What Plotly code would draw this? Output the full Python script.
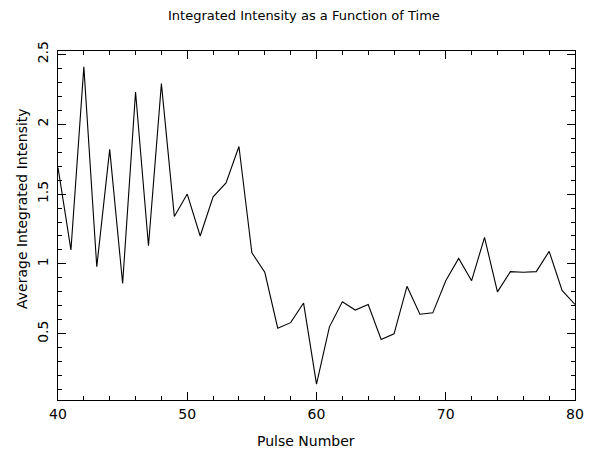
import plotly.graph_objects as go

pulse = list(range(40, 81))
intensity = [1.69, 1.10, 2.41, 0.98, 1.82, 0.86, 2.23, 1.13, 2.29, 1.34,
             1.50, 1.20, 1.48, 1.58, 1.84, 1.08, 0.94, 0.54, 0.58, 0.72,
             0.14, 0.55, 0.73, 0.67, 0.71, 0.46, 0.50, 0.84, 0.64, 0.65,
             0.88, 1.04, 0.88, 1.19, 0.80, 0.945, 0.94, 0.945, 1.09, 0.81,
             0.71]
x_ticks = [40, 50, 60, 70, 80]
y_ticks = [0.5, 1, 1.5, 2, 2.5]
y_tick_text = ["0.5", "1", "1.5", "2", "2.5"]

title = "Integrated Intensity as a Function of Time"
x_title = "Pulse Number"
y_title = "Average Integrated Intensity"

ymin, ymax = min(intensity), max(intensity)
pad = 0.05 * (ymax - ymin)

FONT = "DejaVu Sans"
fig = go.Figure()
fig.add_trace(go.Scatter(x=pulse, y=intensity, mode="lines",
                         line=dict(color="black", width=1.1), showlegend=False))

axis_common = dict(showgrid=False, zeroline=False, showline=True, linecolor="black",
                   linewidth=1, mirror="ticks", ticks="inside", tickcolor="black",
                   tickwidth=1, ticklen=8, automargin=False,
                   tickfont=dict(family=FONT, size=14, color="black"))
fig.update_xaxes(range=[40, 80], tickvals=x_ticks, ticklabelstandoff=1,
                 minor=dict(dtick=2, ticks="inside", ticklen=4, tickcolor="black"),
                 **axis_common)
fig.update_yaxes(range=[ymin - pad, ymax + pad], tickvals=y_ticks, ticktext=y_tick_text,
                 tickangle=-90, ticklabelstandoff=3,
                 minor=dict(dtick=0.1, tick0=0, ticks="inside", ticklen=4, tickcolor="black"),
                 **axis_common)

W = 592
L, R = 58, 17
PW = W - L - R

fig.update_layout(
    width=W, height=449,
    margin=dict(l=L, r=R, t=51, b=49),
    plot_bgcolor="white", paper_bgcolor="white",
    font=dict(family=FONT, size=13, color="black"),
    annotations=[
        dict(text=title, xref="paper", yref="paper", x=(304 - L) / PW, y=1 + 35 / 349,
             xanchor="center", yanchor="middle", showarrow=False,
             font=dict(family=FONT, size=13, color="black")),
        dict(text=x_title, xref="paper", yref="paper", x=(306 - L) / PW, y=-41 / 349,
             xanchor="center", yanchor="middle", showarrow=False,
             font=dict(family=FONT, size=14, color="black")),
        dict(text=y_title, xref="paper", yref="paper", x=-36 / PW, y=(400 - 209) / 349,
             xanchor="center", yanchor="middle", showarrow=False, textangle=-90,
             font=dict(family=FONT, size=14, color="black")),
    ],
)

fig.write_html("out.html")
